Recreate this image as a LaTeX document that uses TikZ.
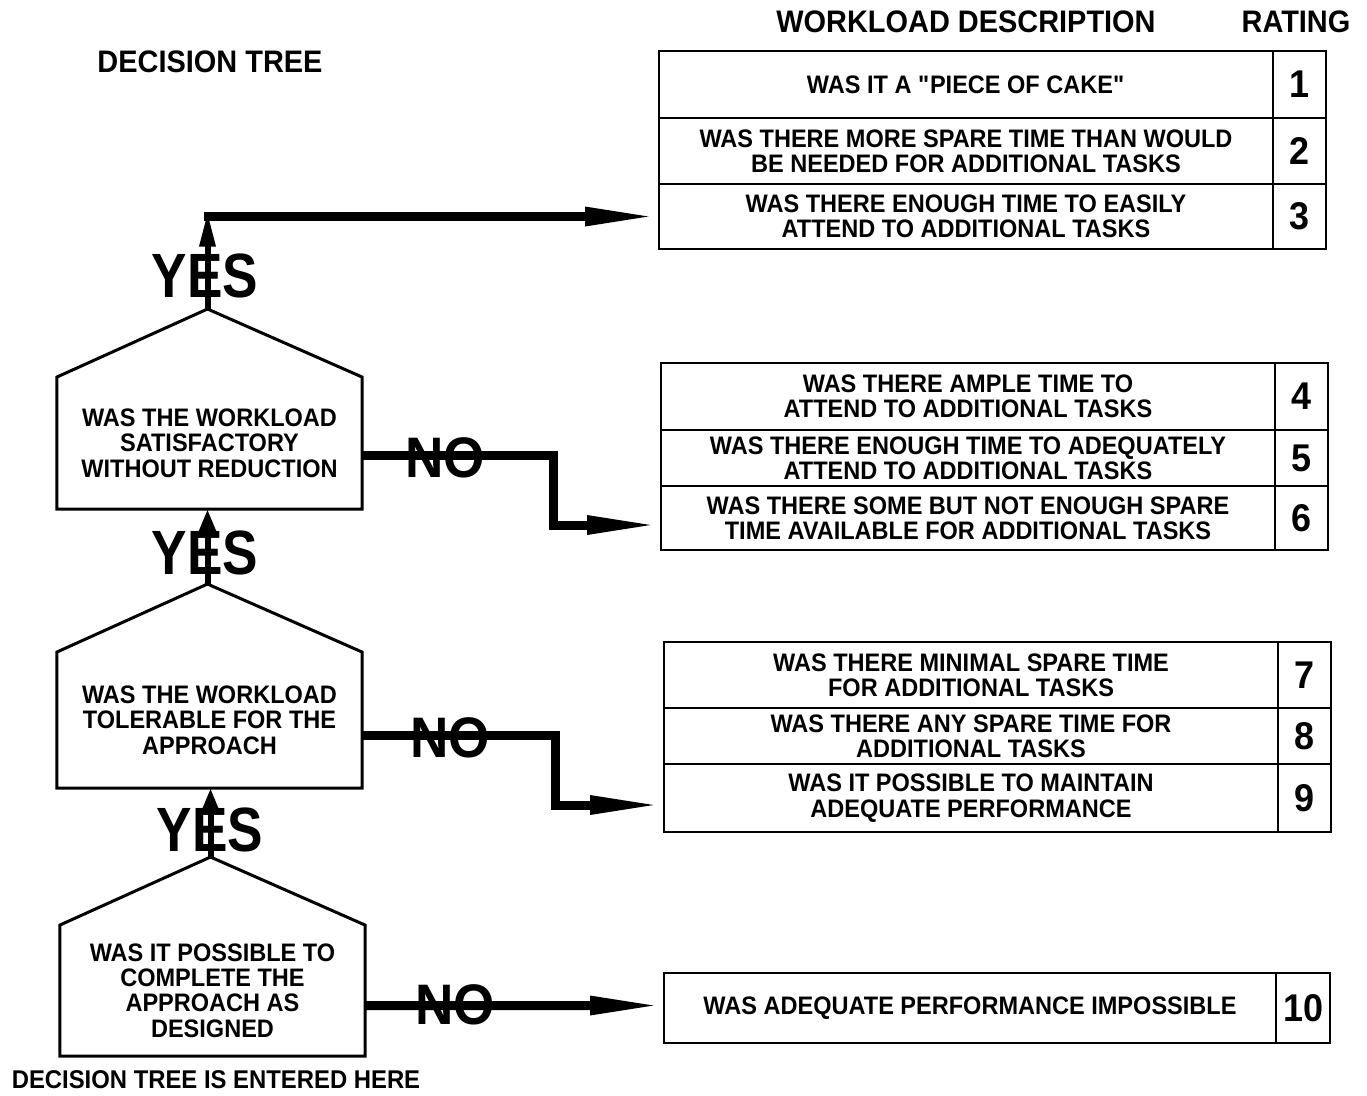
\documentclass[tikz,border=0pt]{standalone}
\usepackage{fontspec}
\setmainfont{Liberation Sans}[FakeStretch=0.93]
\newfontfamily\yesfont{Liberation Sans}[FakeStretch=0.85]
\usetikzlibrary{arrows.meta,calc}
\begin{document}
\begin{tikzpicture}[x=0.2mm,y=-0.2mm,
 house/.style={line width=0.6mm, line join=miter},
 qtext/.style={font=\fontsize{14.4}{14.4}\selectfont\bfseries, align=center, inner sep=0pt, outer sep=0pt, minimum width=61mm},
 desc/.style={draw, line width=0.55mm, font=\fontsize{14.4}{14.4}\selectfont\bfseries, align=center, inner sep=0pt, outer sep=0pt, minimum width=122.8mm},
 rate/.style={draw, line width=0.55mm, font=\fontsize{22}{22}\selectfont\bfseries, inner sep=0pt, outer sep=0pt, minimum width=10.6mm},
 titlelbl/.style={font=\fontsize{17.7}{17.7}\selectfont\bfseries, inner sep=0pt},
 yeslbl/.style={font=\yesfont\fontsize{35.6}{35.6}\selectfont\bfseries, inner sep=0pt},
 nolbl/.style={font=\fontsize{32.5}{32.5}\selectfont\bfseries, inner sep=0pt},
 yesarrow/.style={line width=1.2mm, -{Triangle[length=5mm,width=3.6mm]}},
 toparrow/.style={line width=1.2mm, -{Triangle[length=7mm,width=3mm]}},
 noarrow/.style={line width=1.8mm, line join=miter, -{Triangle[length=14.8mm,width=3.4mm]}},
]
\useasboundingbox[fill=white] (0,0) rectangle (1367,1095);

% titles
\node[titlelbl] (tdec) at (210,62) {DECISION TREE};
\node[titlelbl] (twork) at (966,22) {WORKLOAD DESCRIPTION};
\node[titlelbl] (trate) at (1296,22) {RATING};
\node[font=\fontsize{14.6}{14.6}\selectfont\bfseries, inner sep=0pt] (tenter) at (216,1080) {DECISION TREE IS ENTERED HERE};

% question houses
\node[qtext, minimum height=26.4mm] (q1) at (209.5,443) {WAS THE WORKLOAD\\SATISFACTORY\\WITHOUT REDUCTION};
\node[qtext, minimum height=27.2mm] (q2) at (209.5,720) {WAS THE WORKLOAD\\TOLERABLE FOR THE\\APPROACH};
\node[qtext, minimum height=26.2mm] (q3) at (212.5,990.5) {WAS IT POSSIBLE TO\\COMPLETE THE\\APPROACH AS\\DESIGNED};
\foreach \q in {q1,q2,q3}{
  \draw[house] (\q.south west) -- (\q.north west) -- ($(\q.north)+(-2,-68)$) coordinate (\q apex) -- (\q.north east) -- (\q.south east) -- cycle;
}

% rating group 1
\node[desc, minimum height=13.4mm] (r1) at (966,84.5) {WAS IT A \textquotedbl PIECE OF CAKE\textquotedbl};
\node[desc, minimum height=13.2mm] (r2) at (966,151) {WAS THERE MORE SPARE TIME THAN WOULD\\BE NEEDED FOR ADDITIONAL TASKS};
\node[desc, minimum height=13mm] (r3) at (966,216.5) {WAS THERE ENOUGH TIME TO EASILY\\ATTEND TO ADDITIONAL TASKS};
\node[rate, minimum height=13.4mm] (n1) at (1299.5,84.5) {1};
\node[rate, minimum height=13.2mm] (n2) at (1299.5,151) {2};
\node[rate, minimum height=13mm] (n3) at (1299.5,216.5) {3};

% rating group 2
\node[desc, minimum height=13.4mm] (r4) at (968,396.5) {WAS THERE AMPLE TIME TO\\ATTEND TO ADDITIONAL TASKS};
\node[desc, minimum height=11.2mm] (r5) at (968,458) {WAS THERE ENOUGH TIME TO ADEQUATELY\\ATTEND TO ADDITIONAL TASKS};
\node[desc, minimum height=12.8mm] (r6) at (968,518) {WAS THERE SOME BUT NOT ENOUGH SPARE\\TIME AVAILABLE FOR ADDITIONAL TASKS};
\node[rate, minimum height=13.4mm] (n4) at (1301.5,396.5) {4};
\node[rate, minimum height=11.2mm] (n5) at (1301.5,458) {5};
\node[rate, minimum height=12.8mm] (n6) at (1301.5,518) {6};

% rating group 3
\node[desc, minimum height=13.2mm] (r7) at (971,675) {WAS THERE MINIMAL SPARE TIME\\FOR ADDITIONAL TASKS};
\node[desc, minimum height=11.2mm] (r8) at (971,736) {WAS THERE ANY SPARE TIME FOR\\ADDITIONAL TASKS};
\node[desc, minimum height=13.6mm] (r9) at (971,798) {WAS IT POSSIBLE TO MAINTAIN\\ADEQUATE PERFORMANCE};
\node[rate, minimum height=13.2mm] (n7) at (1304.5,675) {7};
\node[rate, minimum height=11.2mm] (n8) at (1304.5,736) {8};
\node[rate, minimum height=13.6mm] (n9) at (1304.5,798) {9};

% rating 10
\node[desc, minimum width=122.4mm, minimum height=14mm] (r10) at (970,1008) {WAS ADEQUATE PERFORMANCE IMPOSSIBLE};
\node[rate, minimum width=10.8mm, minimum height=14mm] (n10) at (1303,1008) {10};

% YES connectors
\coordinate (c1) at (q1apex |- r3.west);
\draw[toparrow] (q1apex) -- ($(c1)+(0,-5)$);
\draw[noarrow] ($(c1)+(-4,0)$) -- (r3.west);
\draw[yesarrow] (q2apex) -- (q2apex |- q1.south);
\draw[yesarrow] (q3apex) -- (q3apex |- q2.south);
\node[yeslbl] (y1) at (205,276) {YES};
\node[yeslbl] (y2) at (205,553) {YES};
\node[yeslbl] (y3) at (210,830) {YES};

% NO connectors
\draw[noarrow] ($(q1.east)+(0,12)$) -- ++(191,0) |- ($(r6.west)+(0,7)$);
\draw[noarrow] ($(q2.east)+(0,15)$) -- ++(193,0) |- ($(r9.west)+(0,7)$);
\draw[noarrow] ($(q3.east)+(0,15)$) -- ($(r10.west)+(0,-2.5)$);
\node[nolbl] (no1) at (445,458) {NO};
\node[nolbl] (no2) at (450,738) {NO};
\node[nolbl] (no3) at (455,1005) {NO};
\end{tikzpicture}
\end{document}
